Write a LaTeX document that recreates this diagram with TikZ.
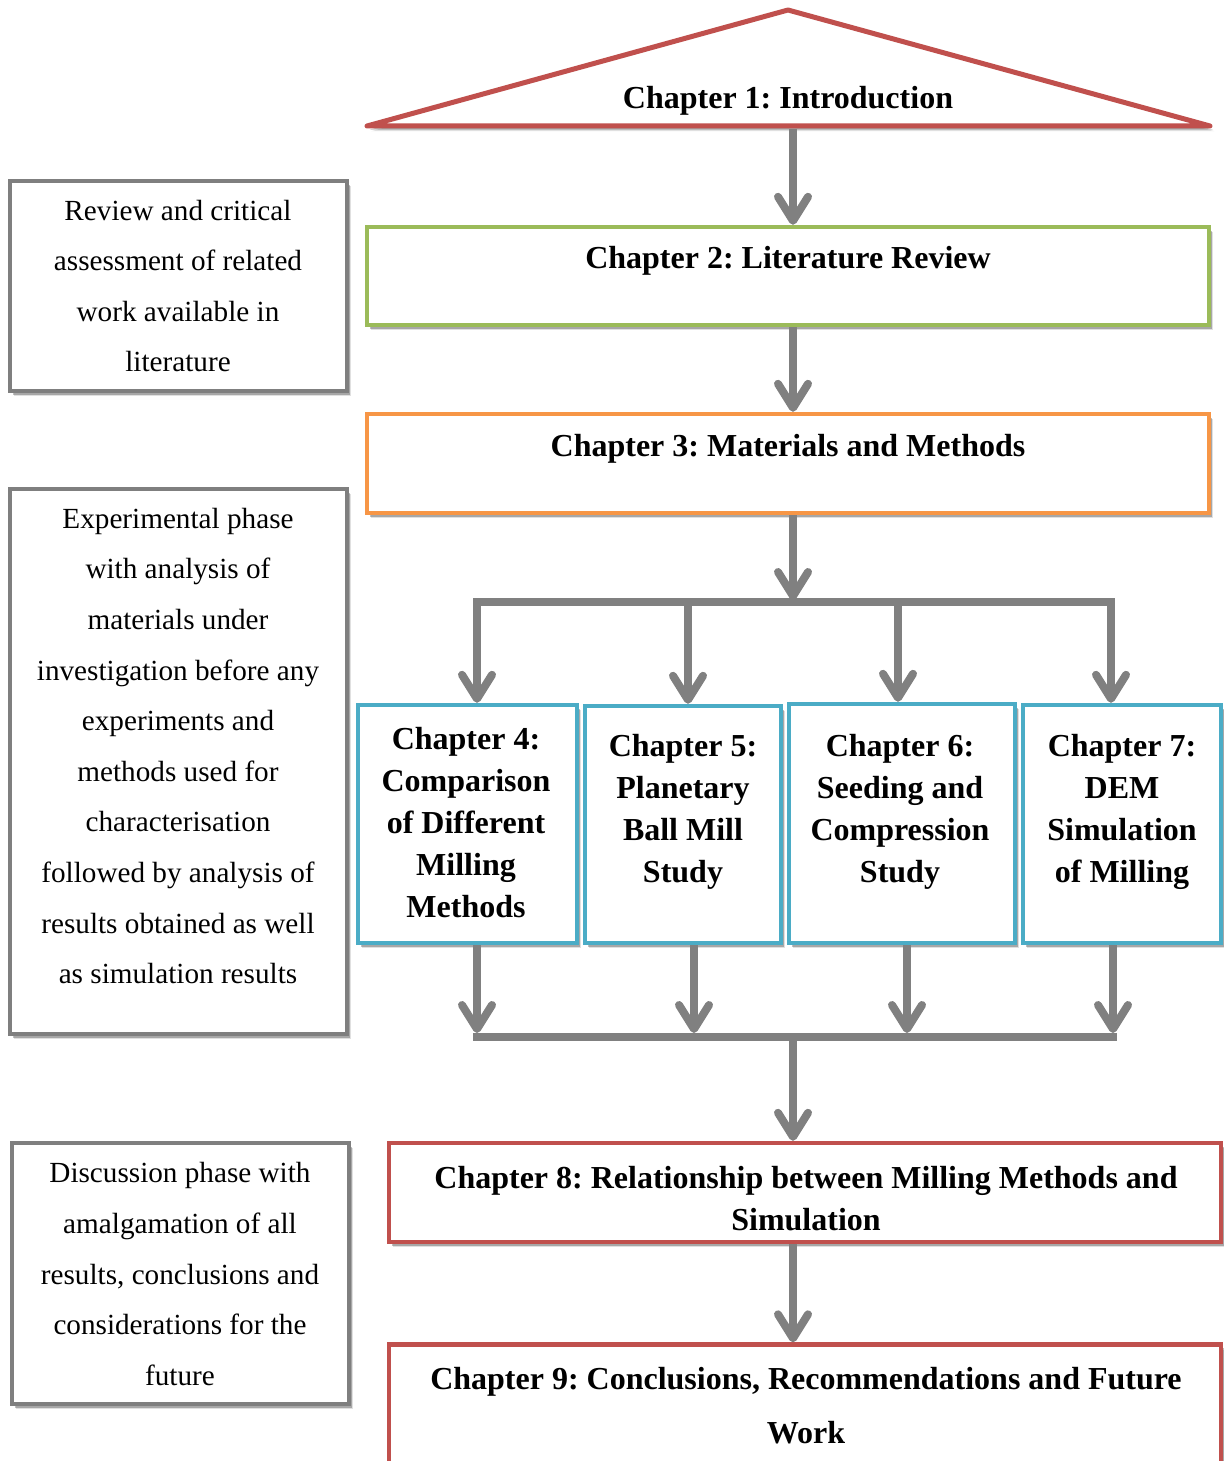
\documentclass[tikz,border=0pt]{standalone}
\usepackage{fontspec}
\setmainfont{Liberation Serif}
\usetikzlibrary{arrows.meta,shadows}
\definecolor{chred}{HTML}{C0504D}
\definecolor{chgreen}{HTML}{9BBB59}
\definecolor{chorange}{HTML}{F79646}
\definecolor{chblue}{HTML}{4BACC6}
\definecolor{notegray}{HTML}{7F7F7F}
\definecolor{flowgray}{HTML}{808080}
\begin{document}
\frenchspacing
\begin{tikzpicture}[x=0.5pt,y=-0.5pt,
  frame/.style={draw, fill=white, line width=2.2pt, rectangle, inner sep=0pt},
  shade/.style={
    drop shadow={shadow xshift=2.2pt,shadow yshift=-2.6pt,opacity=0.12,fill=black},
    drop shadow={shadow xshift=1.4pt,shadow yshift=-1.8pt,opacity=0.25,fill=black}},
  note/.style={frame, draw=notegray, shade},
  chap/.style={frame, shade},
  ctext/.style={font=\fontsize{16}{21}\selectfont\bfseries, align=center, inner sep=0pt},
  ntext/.style={font=\fontsize{14.6}{25.3}\selectfont, align=center, inner sep=0pt},
  flow/.style={draw=flowgray, line width=4pt},
  arr/.style={flow, -{Straight Barb[length=12pt,width=15pt,round]}},
]
\fill[white] (0,0) rectangle (1223,1461);
\useasboundingbox (0,0) rectangle (1223,1461);

% vertical axis of the main flow
\coordinate (spine) at (793,0);

% ---- side notes ----
\node[note, minimum width=168.5pt, minimum height=105pt] (na) at (178.5,286) {};
\node[ntext] (nat) at (178,286) {Review and critical\\assessment of related\\work available in\\literature};

\node[note, minimum width=168.5pt, minimum height=272.5pt] (nb) at (178.5,761.5) {};
\node[ntext] (nbt) at (178,746) {Experimental phase\\with analysis of\\materials under\\investigation before any\\experiments and\\methods used for\\characterisation\\followed by analysis of\\results obtained as well\\as simulation results};

\node[note, minimum width=168.5pt, minimum height=130.5pt] (nc) at (180.5,1273.5) {};
\node[ntext] (nct) at (180,1274) {Discussion phase with\\amalgamation of all\\results, conclusions and\\considerations for the\\future};

% ---- chapter 1 ----
\draw[chred, line width=2.5pt, line join=round, fill=white, shade] (367,126) -- (788,10) -- (1210,126) -- cycle;
\node[ctext] (t1) at (788,101) {Chapter 1: Introduction};
\coordinate (introbase) at (793,129);

% ---- chapters 2, 3 ----
\node[chap, draw=chgreen, minimum width=421pt, minimum height=49pt] (c2) at (788,276) {};
\node[ctext] (t2) at (788,261) {Chapter 2: Literature Review};

\node[chap, draw=chorange, minimum width=421pt, minimum height=49.5pt] (c3) at (788,463.5) {};
\node[ctext] (t3) at (788,449) {Chapter 3: Materials and Methods};

% ---- chapters 4 to 7 ----
\node[chap, draw=chblue, minimum width=109.5pt, minimum height=119pt] (c4) at (467.5,824) {};
\node[ctext] (t4) at (466,823) {Chapter 4:\\Comparison\\of Different\\Milling\\Methods};

\node[chap, draw=chblue, minimum width=98pt, minimum height=118.5pt] (c5) at (683,824.5) {};
\node[ctext] (t5) at (683,812) {Chapter 5:\\Planetary\\Ball Mill\\Study};

\node[chap, draw=chblue, minimum width=113pt, minimum height=119.5pt] (c6) at (902,823.5) {};
\node[ctext] (t6) at (900,812) {Chapter 6:\\Seeding and\\Compression\\Study};

\node[chap, draw=chblue, minimum width=99pt, minimum height=119pt] (c7) at (1122,824) {};
\node[ctext] (t7) at (1122,812) {Chapter 7:\\DEM\\Simulation\\of Milling};

% ---- chapters 8, 9 ----
\node[chap, draw=chred, minimum width=416pt, minimum height=49.5pt] (c8) at (805,1192.5) {};
\node[ctext] (t8) at (806,1199) {Chapter 8: Relationship between Milling Methods and\\Simulation};

\node[chap, draw=chred, minimum width=416pt, minimum height=62.5pt] (c9) at (805,1407) {};
\node[ctext, font=\fontsize{16}{27}\selectfont\bfseries] (t9) at (806,1406) {Chapter 9: Conclusions, Recommendations and Future\\Work};

% ---- connectors ----
\draw[arr] (introbase) -- (c2.north -| spine);
\draw[arr] (c2.south -| spine) -- (c3.north -| spine);

% split towards chapters 4-7
\coordinate (split) at (793,600);
\coordinate (b4) at (477,602);
\coordinate (b5) at (688,602);
\coordinate (b6) at (898,602);
\coordinate (b7) at (1111,602);
\draw[arr] (c3.south -| spine) -- (split);
\draw[flow, line cap=rect] (b4) -- (b7);
\foreach \i in {4,...,7}
  \draw[arr] (b\i) -- (b\i |- c\i.north);

% merge towards chapter 8
\coordinate (m4) at (477,1033);
\coordinate (m5) at (694,1033);
\coordinate (m6) at (907,1033);
\coordinate (m7) at (1113,1033);
\coordinate (merge) at (793,1037);
\foreach \i in {4,...,7}
  \draw[arr] (m\i |- c\i.south) -- (m\i);
\draw[flow, line cap=rect] (m4 |- merge) -- (m7 |- merge);
\draw[arr] (merge) -- (c8.north -| spine);
\draw[arr] (c8.south -| spine) -- (c9.north -| spine);
\end{tikzpicture}
\end{document}
